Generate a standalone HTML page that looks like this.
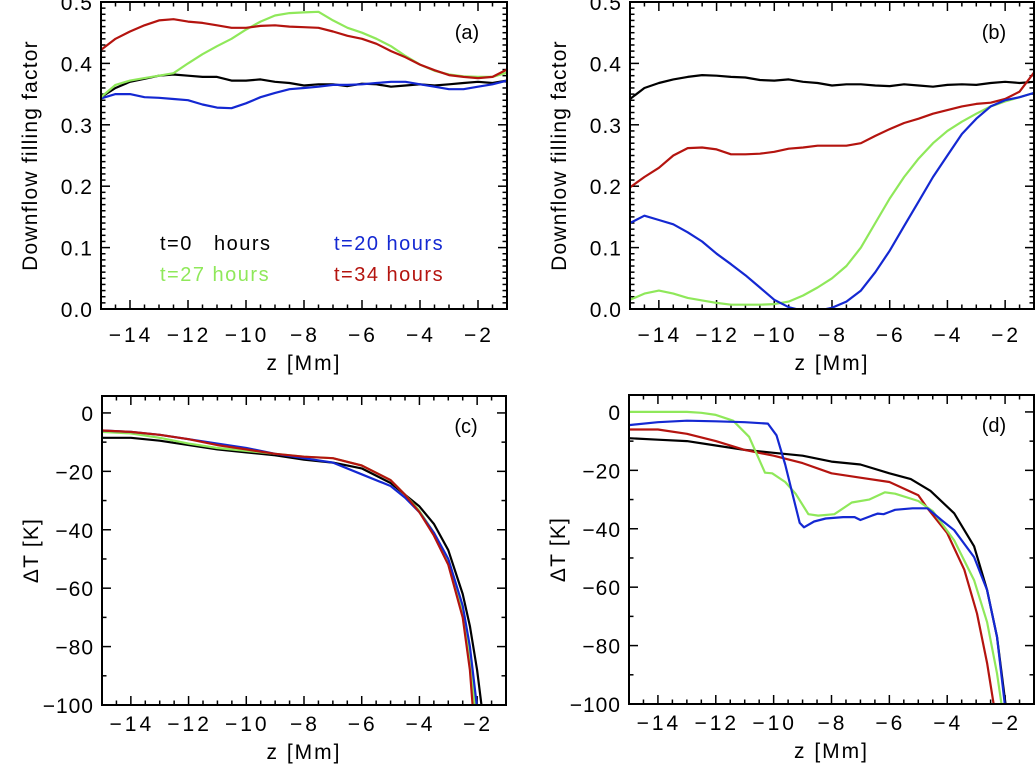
<!DOCTYPE html>
<html><head><meta charset="utf-8"><style>
html,body{margin:0;padding:0;background:#fff;overflow:hidden;width:1036px;height:769px;}
svg{display:block;font-family:"Liberation Sans",sans-serif;}
</style></head><body>
<svg id="fig" width="1036" height="769" viewBox="0 0 1036 769"></svg>
<script>
// ---- data ----
const zA = [-15,-14.5,-14,-13.5,-13,-12.5,-12,-11.5,-11,-10.5,-10,-9.5,-9,-8.5,-8,-7.5,-7,-6.5,-6,-5.5,-5,-4.5,-4,-3.5,-3,-2.5,-2,-1.5,-1];
const aBlack = [0.345,0.36,0.37,0.375,0.38,0.382,0.38,0.378,0.378,0.372,0.372,0.374,0.37,0.368,0.364,0.366,0.366,0.363,0.367,0.366,0.362,0.364,0.366,0.364,0.366,0.368,0.37,0.368,0.372];
const aBlue = [0.343,0.35,0.35,0.345,0.344,0.342,0.34,0.333,0.328,0.327,0.335,0.345,0.352,0.358,0.36,0.362,0.365,0.365,0.366,0.368,0.37,0.37,0.366,0.362,0.358,0.358,0.362,0.366,0.372];
const aGreen = [0.345,0.365,0.372,0.376,0.38,0.384,0.4,0.415,0.428,0.44,0.455,0.468,0.478,0.482,0.483,0.484,0.47,0.458,0.45,0.44,0.428,0.412,0.398,0.388,0.382,0.379,0.378,0.378,0.385];
const aRed = [0.422,0.44,0.452,0.462,0.47,0.472,0.468,0.466,0.462,0.458,0.458,0.461,0.462,0.46,0.459,0.458,0.452,0.445,0.44,0.432,0.42,0.41,0.398,0.389,0.381,0.378,0.376,0.378,0.39];
const bBlack = [0.342,0.36,0.368,0.374,0.378,0.381,0.38,0.378,0.377,0.373,0.372,0.374,0.37,0.368,0.364,0.366,0.366,0.364,0.363,0.366,0.364,0.362,0.365,0.366,0.365,0.368,0.37,0.368,0.37];
const bRed = [0.198,0.215,0.23,0.25,0.262,0.263,0.26,0.252,0.252,0.253,0.256,0.261,0.263,0.266,0.266,0.266,0.27,0.282,0.293,0.303,0.31,0.318,0.324,0.33,0.334,0.336,0.342,0.354,0.385];
const bBlue = [0.14,0.152,0.145,0.138,0.125,0.11,0.09,0.073,0.055,0.035,0.015,0.003,-0.003,-0.003,0.002,0.012,0.03,0.06,0.095,0.135,0.175,0.215,0.25,0.285,0.31,0.33,0.34,0.345,0.352];
const bGreen = [0.015,0.025,0.03,0.025,0.018,0.014,0.01,0.007,0.007,0.007,0.008,0.012,0.022,0.035,0.05,0.07,0.1,0.14,0.18,0.215,0.245,0.27,0.29,0.305,0.318,0.33,0.338,0.345,0.352];
const zC = [-15,-14,-13,-12,-11,-10,-9,-8,-7,-6,-5,-4.5,-4,-3.5,-3,-2.5,-2.25,-2,-1.75];
const cRed = [-6,-6.5,-7.5,-9,-11,-12.5,-14,-15,-15.5,-18,-23,-28,-34,-42,-52,-70,-88,-120,-150];
const cGreen = [-6.5,-7,-8.5,-10.5,-12,-13,-14,-15,-15.5,-18,-23,-28,-33.5,-41,-51,-68,-83,-108,-145];
const cBlue = [-6,-6.5,-7.5,-9,-10.5,-12,-14,-15.5,-17,-21,-25,-29,-34,-41,-50,-66,-80,-101,-135];
const cBlack = [-8.5,-8.5,-9.5,-11,-12.5,-13.5,-14.5,-16,-17,-19,-24,-28,-32,-38,-47,-62,-73,-88,-108];
const dGreenZ = [-15,-14,-13,-12.5,-12,-11.4,-10.85,-10.3,-10.05,-9.6,-9.24,-8.8,-8.46,-7.9,-7.3,-6.7,-6.15,-5.8,-5,-4.5,-3.76,-3.07,-2.62,-2.28,-2.11];
const dGreen = [0,0,0,-0.3,-1,-3,-8.5,-20.8,-21,-24,-28,-35,-35.5,-35,-31,-30,-27.5,-28,-30.5,-34,-44,-57.6,-72,-89.5,-101];
const dBlueZ = [-15,-14,-13,-12,-11,-10.2,-9.9,-9.6,-9.3,-9.1,-8.95,-8.6,-8.2,-7.6,-7.2,-7,-6.6,-6.4,-6.2,-5.8,-5.2,-4.68,-4.2,-3.76,-3.07,-2.62,-2.28,-2.0];
const dBlue = [-4.5,-3.5,-3,-3.2,-3.5,-4,-8,-18,-30,-38,-39.5,-37.5,-36.5,-36,-36,-37,-35.5,-34.8,-35,-33.5,-33,-33,-37,-40.5,-49.7,-61,-77,-101];
const dRedZ = [-15,-14,-13,-12,-11,-10,-9,-8,-7,-6,-5,-4.68,-4,-3.41,-2.97,-2.62,-2.38];
const dRed = [-6,-6,-7.5,-10,-13,-15,-17.5,-21,-22.5,-24,-28.5,-33,-41.5,-54,-69,-86,-101];
const dBlackZ = [-15,-14,-13,-12,-11,-10,-9,-8,-7,-6,-5.26,-4.58,-3.76,-3.07,-2.62,-2.28,-1.97];
const dBlack = [-9,-9.5,-10,-11.5,-13,-14,-15,-17,-18,-21,-23,-27,-34.7,-46,-61,-77,-101];
const xTicks = [-14,-12,-10,-8,-6,-4,-2];
const ffTicks = [0.0,0.1,0.2,0.3,0.4,0.5];
const ffTickLabels = ["0.0","0.1","0.2","0.3","0.4","0.5"];
const dtTicks = [0,-20,-40,-60,-80,-100];

const C = {black:"#000", blue:"#1428d2", green:"#8fe85a", red:"#b4140f"};
const NS = "http://www.w3.org/2000/svg";
const svg = document.getElementById('fig');
function mk(tag, attrs, parent){const e=document.createElementNS(NS,tag);for(const k in attrs)e.setAttribute(k,attrs[k]);(parent||svg).appendChild(e);return e;}

function panel(id, box, yDom, yMajor, yMinorStep, yLabels, yTitle, tag, tickOff){
  const [x0,y0,x1,y1]=box;
  const xs = z => x0+(z-(-15))/(14)*(x1-x0);
  const ys = v => y1-(v-yDom[0])/(yDom[1]-yDom[0])*(y1-y0);
  const g = mk('g',{});
  
  
  const cp = mk('clipPath',{id:'clip'+id},g);
  mk('rect',{x:x0,y:y0,width:x1-x0,height:y1-y0},cp);
  const tk = mk('g',{stroke:'#000','stroke-width':1.5},g);
  
  
  for(let z=-15;z<=-1.001;z+=0.5){
    const X=xs(z); const maj=Math.abs(z%2)<1e-6; const L=maj?9:4.5;
    mk('line',{x1:X,y1:y1,x2:X,y2:y1-L},tk); mk('line',{x1:X,y1:y0,x2:X,y2:y0+L},tk);
  }
  const nMin=Math.round((yDom[1]-yDom[0])/yMinorStep);
  for(let i=0;i<=nMin;i++){
    const v=yDom[0]+i*yMinorStep; if(v>yDom[1]+1e-9) break; const Y=ys(v);
    const maj=yMajor.some(t=>Math.abs(t-v)<yMinorStep/10); const L=maj?9:4.5;
    mk('line',{x1:x0,y1:Y,x2:x0+L,y2:Y},tk); mk('line',{x1:x1,y1:Y,x2:x1-L,y2:Y},tk);
  }
  xTicks.forEach(t=>{const e=mk('text',{x:xs(t)+1,y:y1+tickOff,'font-size':21,'text-anchor':'middle','letter-spacing':3},g);e.textContent='\u2212'+Math.abs(t);
    
    });
  yMajor.forEach((t,i)=>{const e=mk('text',{x:x0-8,y:ys(t)+8,'font-size':21,'text-anchor':'end','letter-spacing':1},g);e.textContent=yLabels[i];
    
    });
  const xt=mk('text',{x:(x0+x1)/2,y:y1+tickOff+28,'font-size':21,'text-anchor':'middle','letter-spacing':2},g);xt.textContent='z [Mm]';
  
  
  const cy=(y0+y1)/2;
  const yt=mk('text',{x:x0-64,y:cy,'font-size':21,'text-anchor':'middle','letter-spacing':1.2,transform:`rotate(-90 ${x0-64} ${cy})`},g);yt.textContent=yTitle;
  
  
  const pt=mk('text',{x:x1-40,y:y0+37,'font-size':20,'text-anchor':'middle'},g);pt.textContent=tag;
  
  
  const lines=mk('g',{'clip-path':`url(#clip${id})`,fill:'none','stroke-width':2.2,'stroke-linejoin':'round'},g);
  mk('rect',{x:x0,y:y0,width:x1-x0,height:y1-y0,fill:'none',stroke:'#000','stroke-width':2},g);
  return {xs,ys,lines};
}
function series(p, zs, vs, col, name){
  const d = zs.map((z,i)=>(i?'L':'M')+p.xs(z).toFixed(1)+','+p.ys(vs[i]).toFixed(1)).join('');
  const e = mk('path',{d:d,stroke:col},p.lines);
  
  
}
const ffMinor=0.01, dtMinor=10;
const dtLabels=dtTicks.map(t=>t===0?'0':'\u2212'+Math.abs(t));
const pa = panel('a',[101,2,507,309],[0,0.5],ffTicks,ffMinor,ffTickLabels,'Downflow filling factor','(a)',33);
series(pa,zA,aBlack,C.black,'line-t0');
series(pa,zA,aBlue,C.blue,'line-t20');
series(pa,zA,aGreen,C.green,'line-t27');
series(pa,zA,aRed,C.red,'line-t34');
const pb = panel('b',[630,2,1034,309],[0,0.5],ffTicks,ffMinor,ffTickLabels,'Downflow filling factor','(b)',33);
series(pb,zA,bBlack,C.black,'line-t0');
series(pb,zA,bRed,C.red,'line-t34');
series(pb,zA,bGreen,C.green,'line-t27');
series(pb,zA,bBlue,C.blue,'line-t20');
const pc = panel('c',[102,396,506,705],[-100,5.8],dtTicks,dtMinor,dtLabels,'\u0394T [K]','(c)',26);
series(pc,zC,cBlack,C.black,'line-t0');
series(pc,zC,cGreen,C.green,'line-t27');
series(pc,zC,cBlue,C.blue,'line-t20');
series(pc,zC,cRed,C.red,'line-t34');
const pd = panel('d',[629,395,1034,704],[-100,5.8],dtTicks,dtMinor,dtLabels,'\u0394T [K]','(d)',26);
series(pd,dBlackZ,dBlack,C.black,'line-t0');
series(pd,dRedZ,dRed,C.red,'line-t34');
series(pd,dGreenZ,dGreen,C.green,'line-t27');
series(pd,dBlueZ,dBlue,C.blue,'line-t20');
const leg=[['t=0   hours',C.black,160,250],['t=20 hours',C.blue,334,250],['t=27 hours',C.green,160,281],['t=34 hours',C.red,334,281]];
leg.forEach(l=>{const e=mk('text',{x:l[2],y:l[3],'font-size':20,fill:l[1],'letter-spacing':1.5,style:'white-space:pre'});e.textContent=l[0];
  
  });
</script>
</body></html>
